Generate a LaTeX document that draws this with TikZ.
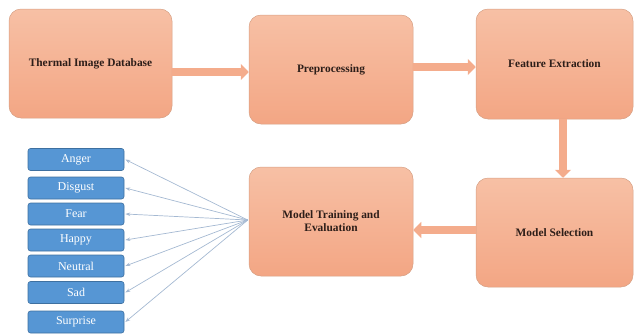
\documentclass[tikz,border=0pt]{standalone}
\usepackage{fontspec}
\setmainfont{Liberation Serif}
\usetikzlibrary{arrows.meta, positioning}
\definecolor{stagetop}{RGB}{247,192,165}
\definecolor{stagebot}{RGB}{243,166,132}
\definecolor{stageline}{RGB}{214,160,132}
\definecolor{stagetext}{RGB}{45,30,25}
\definecolor{emofill}{RGB}{86,150,212}
\definecolor{emoline}{RGB}{62,112,160}
\definecolor{fanline}{RGB}{165,185,210}
\definecolor{flowfill}{RGB}{244,172,140}

\begin{document}
\begin{tikzpicture}[
  x=1pt, y=-1pt,
  stage/.style={draw=stageline, top color=stagetop, bottom color=stagebot,
                rounded corners=12pt, minimum width=163pt, minimum height=109pt,
                font=\fontsize{11.4}{13}\selectfont\bfseries, text=stagetext,
                align=center, line width=0.5pt},
  emo/.style={draw=emoline, fill=emofill, rounded corners=2.5pt,
              minimum width=96pt, minimum height=22pt,
              font=\fontsize{12}{13}\selectfont, text=white, line width=0.6pt},
  flow/.style={-{Triangle[length=8pt, width=16pt]}, flowfill, line width=8pt},
  fan/.style={-{Stealth[length=5pt, width=3.5pt]}, fanline, line width=0.7pt},
]
  \useasboundingbox (0,0) rectangle (634,333);

  % Pipeline stages
  \node[stage] (db) at (90.5,63.5) {Thermal Image Database};
  \node[stage, minimum width=164pt] (prep) at (331,69.5) {Preprocessing};
  \node[stage, minimum width=157pt, minimum height=110pt] (feat) at (554.5,64) {Feature Extraction};
  \node[stage, minimum width=157pt] (sel) at (554.5,232.5) {Model Selection};
  \node[stage, minimum width=164pt] (train) at (331,221.5) {Model Training and\\Evaluation};

  \draw[flow] ([yshift=-8.5pt]db.east) -- ([yshift=-8.5pt]db.east -| prep.west);
  \draw[flow] ([yshift=2.5pt]prep.east) -- ([yshift=2.5pt]prep.east -| feat.west);
  \draw[flow] ([xshift=8.5pt]feat.south) -- ([xshift=8.5pt]feat.south |- sel.north);
  \draw[flow] ([yshift=2.5pt]sel.west) -- ([yshift=2.5pt]sel.west -| train.east);

  % Emotion classes
  \foreach \name/\lbl/\ypos in {anger/Anger/159.5, disgust/Disgust/188,
                                fear/Fear/214, happy/Happy/240,
                                neutral/Neutral/266, sad/Sad/292.5,
                                surprise/Surprise/322} {
    \node[emo] (\name) at (76,\ypos) {\lbl};
  }

  \coordinate (hub) at ([xshift=-1pt, yshift=1.5pt]train.west);
  \foreach \name in {anger, disgust, fear, happy, neutral, sad, surprise} {
    \draw[fan] (hub) -- ([xshift=1pt]\name.east);
  }
\end{tikzpicture}
\end{document}
